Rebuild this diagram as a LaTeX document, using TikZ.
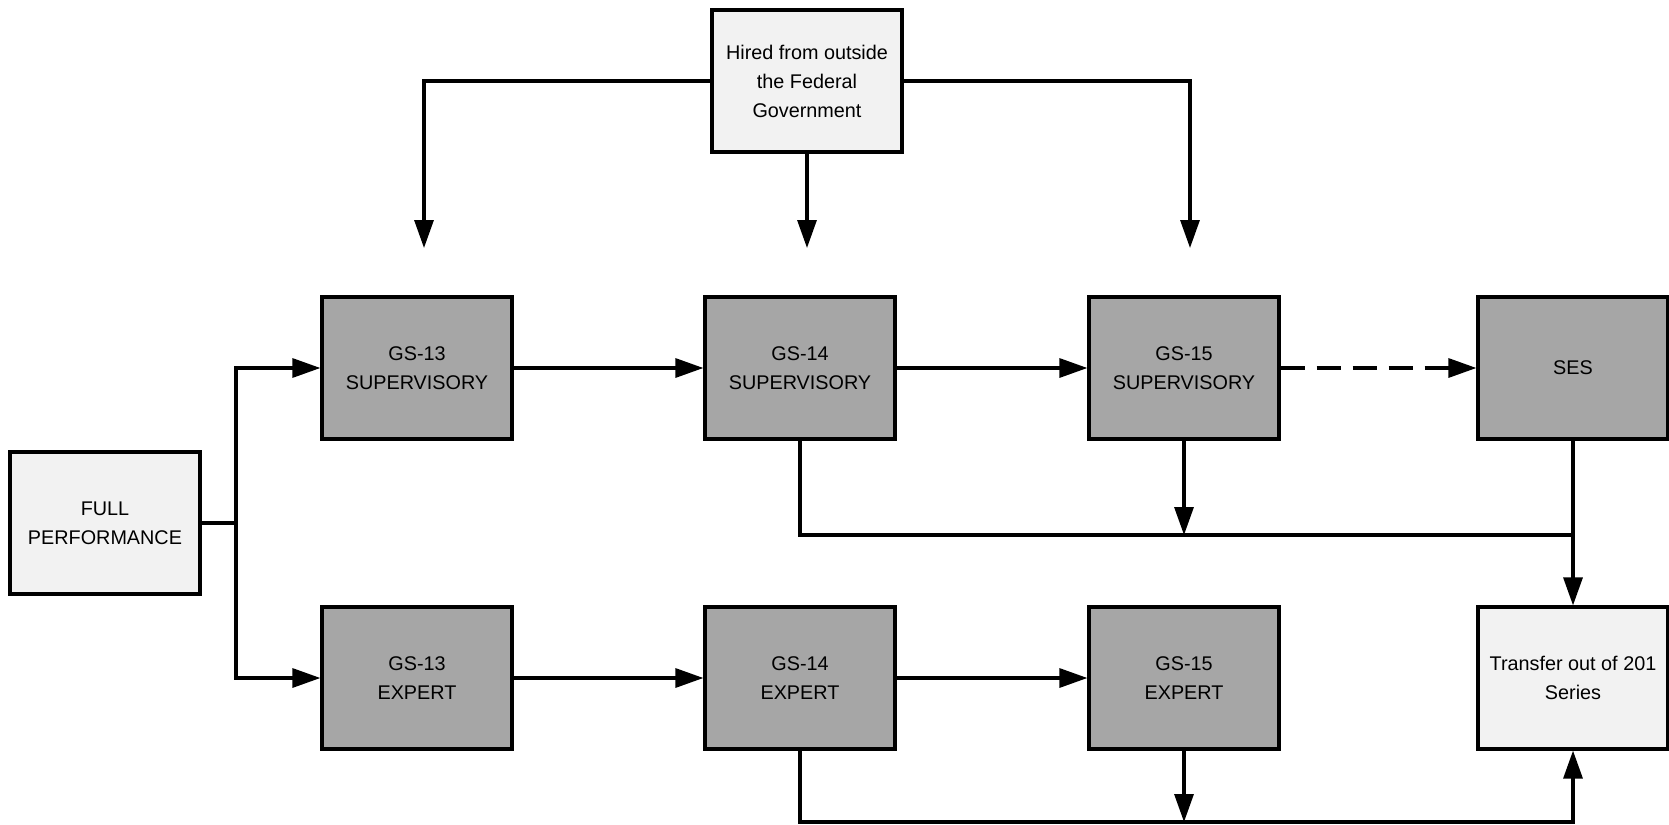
\documentclass[tikz,border=0pt]{standalone}
\usepackage{fontspec}
\setmainfont{Liberation Sans}
\usetikzlibrary{arrows.meta}
\definecolor{gradefill}{HTML}{A6A6A6}
\definecolor{pagefill}{HTML}{F2F2F2}

\begin{document}
\begin{tikzpicture}
            [x=0.5pt, y=-0.5pt, ->, >={Triangle[length=14pt,width=9.5pt]}, line width=1.6pt,
             gradebox/.style={shape=rectangle, draw=black, fill=gradefill, line width=1.6pt,
                              minimum width=95pt, minimum height=71pt, align=center,
                              font=\fontsize{9.9}{14.5}\selectfont},
             sidebox/.style={gradebox, fill=pagefill}]
            \useasboundingbox (0,0) rectangle (1669,824);

            \node[sidebox] (hired) at (807,81) {Hired from outside\\the Federal\\Government};
            \node[sidebox] (full) at (105,523) {FULL\\PERFORMANCE};
            \node[gradebox] (sup13) at (417,368) {GS-13\\SUPERVISORY};
            \node[gradebox] (sup14) at (800,368) {GS-14\\SUPERVISORY};
            \node[gradebox] (sup15) at (1184,368) {GS-15\\SUPERVISORY};
            \node[gradebox] (ses) at (1573,368) {SES};
            \node[gradebox] (exp13) at (417,678) {GS-13\\EXPERT};
            \node[gradebox] (exp14) at (800,678) {GS-14\\EXPERT};
            \node[gradebox] (exp15) at (1184,678) {GS-15\\EXPERT};
            \node[sidebox] (transfer) at (1573,678) {Transfer out of 201\\Series};

            \coordinate (hleft) at (424,248);
            \coordinate (hmid) at (807,248);
            \coordinate (hright) at (1190,248);
            \coordinate (split) at (236,523);
            \coordinate (bus14) at (800,535);
            \coordinate (bus15) at (1184,535);
            \coordinate (busses) at (1573,535);
            \coordinate (low14) at (800,822);
            \coordinate (low15) at (1184,822);
            \coordinate (lowtr) at (1573,822);

            \draw (hired.west) -| (hleft);
            \draw (hired.south) -- (hmid);
            \draw (hired.east) -| (hright);

            \draw [-] (full.east) -- (split);
            \draw (split) |- (sup13.west);
            \draw (split) |- (exp13.west);

            \draw (sup13) -- (sup14);
            \draw (sup14) -- (sup15);
            \draw [dash pattern=on 12pt off 6pt] (sup15) -- (ses);
            \draw (exp13) -- (exp14);
            \draw (exp14) -- (exp15);

            \draw [-] (sup14.south) -- (bus14) -- (busses);
            \draw (sup15.south) -- (bus15);
            \draw (ses.south) -- (transfer.north);
            \draw (exp14.south) -- (low14) -- (lowtr) -- (transfer.south);
            \draw (exp15.south) -- (low15);
        \end{tikzpicture}
\end{document}
